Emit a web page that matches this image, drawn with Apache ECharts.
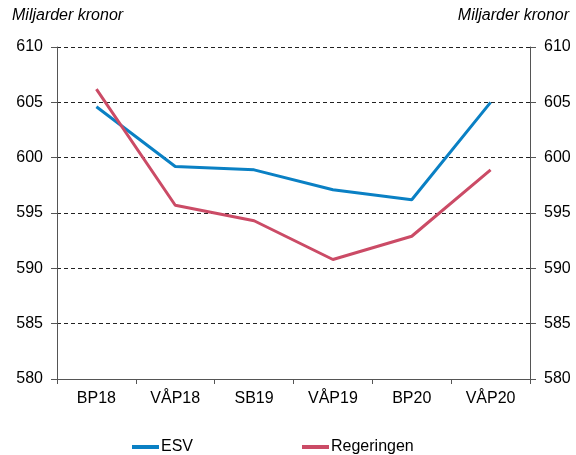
<!DOCTYPE html>
<html>
<head>
<meta charset="utf-8">
<script src="https://cdn.jsdelivr.net/npm/echarts@6/dist/echarts.min.js"></script>
<style>
  html, body { margin: 0; padding: 0; background: #fff; }
  #chart { width: 576px; height: 455px; }
</style>
</head>
<body>
<div id="chart"></div>
<script>
// budget rounds
const categories = ["BP18", "VÅP18", "SB19", "VÅP19", "BP20", "VÅP20"];
const esv = [604.6, 599.2, 598.9, 597.1, 596.2, 605.0];
const regeringen = [606.2, 595.7, 594.3, 590.8, 592.9, 598.9];
const yMin = 580;
const yMax = 610;
const yStep = 5;

const font = "Liberation Sans, Arial, sans-serif";
const textColor = "#000";

const chart = echarts.init(document.getElementById("chart"));

const yAxisBase = {
  type: "value",
  min: yMin,
  max: yMax,
  interval: yStep,
  axisLine: { show: true, lineStyle: { color: "#555", width: 1 } },
  axisTick: { show: true, length: 6, lineStyle: { color: "#555" } },
  axisLabel: { color: textColor, fontFamily: font, fontSize: 16, margin: 14 }
};

chart.setOption({
  animation: false,
  textStyle: { fontFamily: font },
  grid: { left: 57, right: 46, top: 47, bottom: 76 },
  graphic: [
    {
      type: "text", left: 12, top: 8,
      style: { text: "Miljarder kronor", font: "italic 16px " + font, fill: textColor }
    },
    {
      type: "text", right: 7, top: 8,
      style: { text: "Miljarder kronor", font: "italic 16px " + font, fill: textColor }
    }
  ],
  legend: {
    left: 127,
    bottom: -5,
    itemGap: 109,
    itemWidth: 27,
    itemHeight: 4,
    icon: "rect",
    textStyle: { color: textColor, fontSize: 16, fontFamily: font, padding: [0, 0, 0, -3] },
    data: ["ESV", "Regeringen"]
  },
  xAxis: {
    type: "category",
    data: categories,
    boundaryGap: true,
    axisLine: { lineStyle: { color: "#555", width: 1 } },
    axisTick: { show: true, length: 5, lineStyle: { color: "#555" } },
    axisLabel: { color: textColor, fontFamily: font, fontSize: 16, margin: 12 }
  },
  yAxis: [
    Object.assign({}, yAxisBase, {
      position: "left",
      splitLine: { show: true, lineStyle: { color: "#222", type: [4, 3], width: 1 } }
    }),
    Object.assign({}, yAxisBase, {
      position: "right",
      splitLine: { show: false }
    })
  ],
  series: [
    {
      name: "ESV",
      type: "line",
      data: esv,
      symbol: "none",
      lineStyle: { color: "#0A80C4", width: 3 },
      itemStyle: { color: "#0A80C4" }
    },
    {
      name: "Regeringen",
      type: "line",
      data: regeringen,
      symbol: "none",
      lineStyle: { color: "#CB4B66", width: 3 },
      itemStyle: { color: "#CB4B66" }
    }
  ]
});
</script>
</body>
</html>
